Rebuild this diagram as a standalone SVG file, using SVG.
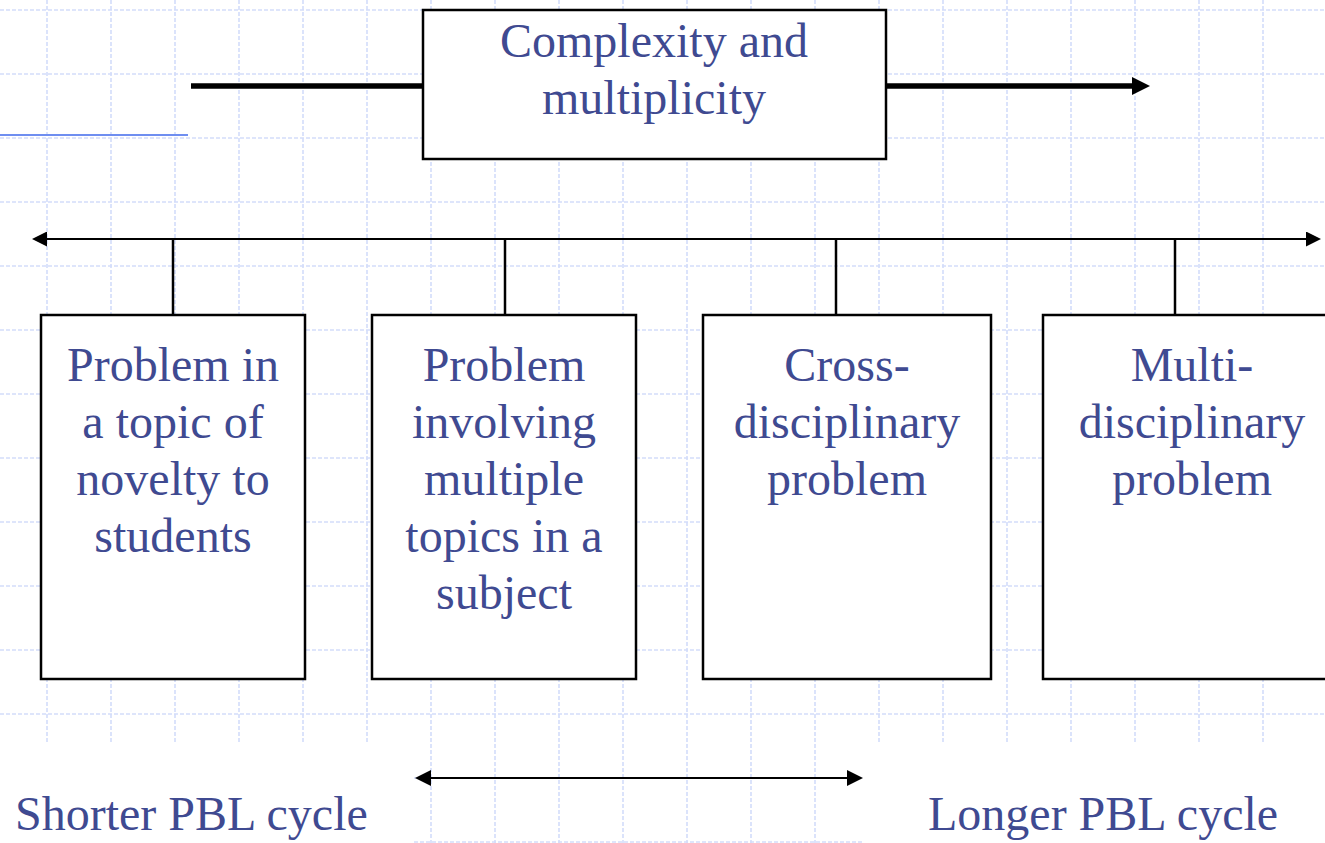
<svg xmlns="http://www.w3.org/2000/svg" width="1325" height="843" viewBox="0 0 1325 843">
  <style>
    .grid { stroke: #d3ddfa; stroke-width: 1.6; stroke-dasharray: 4 2; fill: none; }
    .box { fill: #ffffff; stroke: #000000; stroke-width: 2.5; }
    .txt { font-family: "Liberation Serif", "Times New Roman", serif; font-size: 48px; fill: #3f4a91; text-anchor: middle; }
    .lbl { font-family: "Liberation Serif", "Times New Roman", serif; font-size: 48px; fill: #3f4a91; }
    .thin { stroke: #000000; stroke-width: 2; fill: none; }
    .stub { stroke: #000000; stroke-width: 2.5; fill: none; }
    .thick { stroke: #000000; stroke-width: 5.5; fill: none; }
  </style>
  <defs>
    <marker id="bigHead" markerUnits="userSpaceOnUse" viewBox="0 0 18 18" refX="0" refY="9" markerWidth="18" markerHeight="18" orient="auto">
      <path d="M0,0 L18,9 L0,18 z" fill="#000000"/>
    </marker>
    <marker id="midHead" markerUnits="userSpaceOnUse" viewBox="0 0 15 15" refX="0" refY="7.5" markerWidth="15" markerHeight="15" orient="auto-start-reverse">
      <path d="M0,0 L15,7.5 L0,15 z" fill="#000000"/>
    </marker>
    <marker id="smallHead" markerUnits="userSpaceOnUse" viewBox="0 0 16 16" refX="0" refY="8" markerWidth="16" markerHeight="16" orient="auto-start-reverse">
      <path d="M0,0 L16,8 L0,16 z" fill="#000000"/>
    </marker>
  </defs>

  <rect x="0" y="0" width="1325" height="843" fill="#ffffff"/>

  <g id="grid">
    <path class="grid" d="M47 0V843 M111 0V843 M175 0V843 M239 0V843 M303 0V843 M367 0V843 M431 0V843 M495 0V843 M559 0V843 M623 0V843 M687 0V843 M751 0V843 M815 0V843 M879 0V843 M943 0V843 M1007 0V843 M1071 0V843 M1135 0V843 M1199 0V843 M1263 0V843"/>
    <path class="grid" d="M0 10H1325 M0 74H1325 M0 138H1325 M0 202H1325 M0 266H1325 M0 330H1325 M0 394H1325 M0 458H1325 M0 522H1325 M0 586H1325 M0 650H1325 M0 714H1325 M0 778H1325 M0 842H1325"/>
    <rect x="0" y="744" width="413" height="99" fill="#ffffff"/>
    <rect x="862" y="744" width="463" height="99" fill="#ffffff"/>
  </g>

  <line x1="0" y1="135" x2="188" y2="135" stroke="#6f8ef0" stroke-width="2"/>

  <g id="connectors">
    <line class="thick" x1="191" y1="86" x2="423" y2="86"/>
    <line class="thick" x1="886" y1="86" x2="1132" y2="86" marker-end="url(#bigHead)"/>
    <line class="thin" x1="47" y1="239" x2="1306" y2="239" marker-start="url(#midHead)" marker-end="url(#midHead)"/>
    <line class="stub" x1="173" y1="239" x2="173" y2="315"/>
    <line class="stub" x1="505" y1="239" x2="505" y2="315"/>
    <line class="stub" x1="836" y1="239" x2="836" y2="315"/>
    <line class="stub" x1="1175" y1="239" x2="1175" y2="315"/>
    <line class="thin" x1="431" y1="778" x2="847" y2="778" marker-start="url(#smallHead)" marker-end="url(#smallHead)"/>
  </g>

  <g id="node-complexity">
    <rect class="box" x="423" y="10" width="463" height="149"/>
    <text class="txt" x="654" y="57">Complexity and</text>
    <text class="txt" x="654" y="114">multiplicity</text>
  </g>

  <g id="node-novelty">
    <rect class="box" x="41" y="315" width="264" height="364"/>
    <text class="txt" x="173" y="381">Problem in</text>
    <text class="txt" x="173" y="438">a topic of</text>
    <text class="txt" x="173" y="495">novelty to</text>
    <text class="txt" x="173" y="552">students</text>
  </g>

  <g id="node-multiple-topics">
    <rect class="box" x="372" y="315" width="264" height="364"/>
    <text class="txt" x="504" y="381">Problem</text>
    <text class="txt" x="504" y="438">involving</text>
    <text class="txt" x="504" y="495">multiple</text>
    <text class="txt" x="504" y="552">topics in a</text>
    <text class="txt" x="504" y="609">subject</text>
  </g>

  <g id="node-cross">
    <rect class="box" x="703" y="315" width="288" height="364"/>
    <text class="txt" x="847" y="381">Cross-</text>
    <text class="txt" x="847" y="438">disciplinary</text>
    <text class="txt" x="847" y="495">problem</text>
  </g>

  <g id="node-multi">
    <rect class="box" x="1043" y="315" width="298" height="364"/>
    <text class="txt" x="1192" y="381">Multi-</text>
    <text class="txt" x="1192" y="438">disciplinary</text>
    <text class="txt" x="1192" y="495">problem</text>
  </g>

  <g id="labels">
    <text class="lbl" x="15" y="830">Shorter PBL cycle</text>
    <text class="lbl" x="928" y="830">Longer PBL cycle</text>
  </g>
</svg>
